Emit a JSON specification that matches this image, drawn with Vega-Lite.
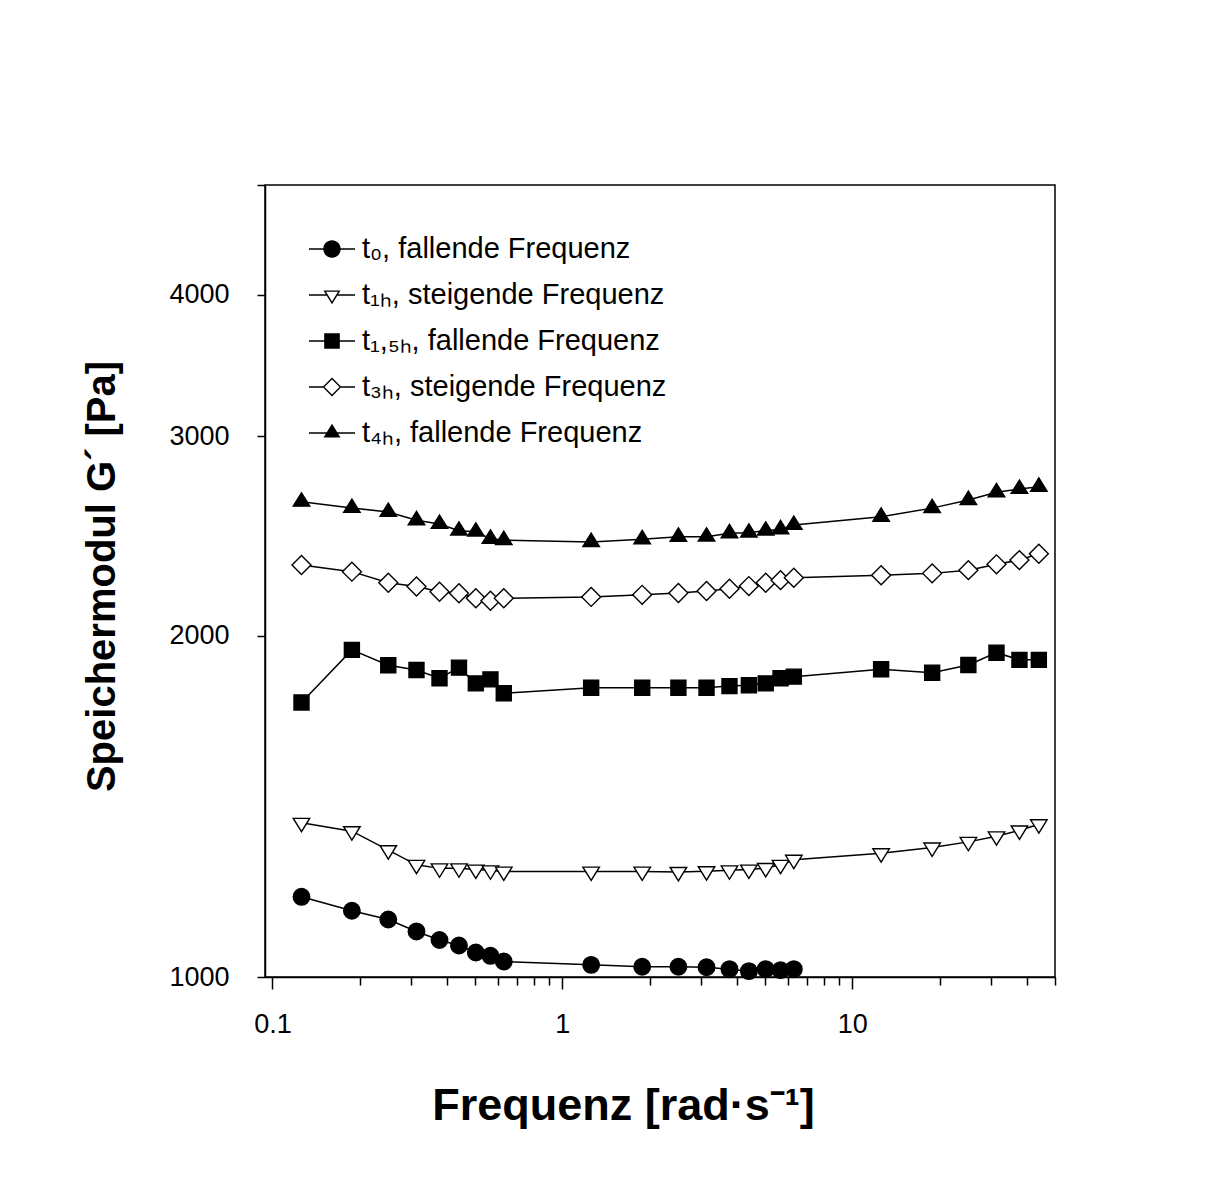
{
  "$schema": "https://vega.github.io/schema/vega-lite/v6.json",
  "width": 790,
  "height": 792,
  "autosize": "none",
  "padding": {"left": 265, "top": 185, "right": 158, "bottom": 216},
  "background": "white",
  "config": {
    "font": "Liberation Sans",
    "view": {"stroke": "black", "strokeWidth": 1.5},
    "axis": {
      "grid": false,
      "domainColor": "black",
      "domainWidth": 1.5,
      "tickColor": "black",
      "tickWidth": 1.5,
      "labelColor": "black",
      "labelFont": "Liberation Sans",
      "labelFontSize": 27,
      "titleColor": "black",
      "titleFont": "Liberation Sans",
      "titleFontWeight": "bold"
    }
  },
  "data": {
    "values": [
      {"f": 0.126, "g": 1177, "s": "t₀, fallende Frequenz"},
      {"f": 0.188, "g": 1144, "s": "t₀, fallende Frequenz"},
      {"f": 0.251, "g": 1124, "s": "t₀, fallende Frequenz"},
      {"f": 0.314, "g": 1097, "s": "t₀, fallende Frequenz"},
      {"f": 0.377, "g": 1078, "s": "t₀, fallende Frequenz"},
      {"f": 0.440, "g": 1066, "s": "t₀, fallende Frequenz"},
      {"f": 0.503, "g": 1051, "s": "t₀, fallende Frequenz"},
      {"f": 0.565, "g": 1044, "s": "t₀, fallende Frequenz"},
      {"f": 0.628, "g": 1032, "s": "t₀, fallende Frequenz"},
      {"f": 1.257, "g": 1025, "s": "t₀, fallende Frequenz"},
      {"f": 1.885, "g": 1021, "s": "t₀, fallende Frequenz"},
      {"f": 2.513, "g": 1021, "s": "t₀, fallende Frequenz"},
      {"f": 3.142, "g": 1020, "s": "t₀, fallende Frequenz"},
      {"f": 3.770, "g": 1016, "s": "t₀, fallende Frequenz"},
      {"f": 4.398, "g": 1012, "s": "t₀, fallende Frequenz"},
      {"f": 5.027, "g": 1016, "s": "t₀, fallende Frequenz"},
      {"f": 5.655, "g": 1014, "s": "t₀, fallende Frequenz"},
      {"f": 6.283, "g": 1016, "s": "t₀, fallende Frequenz"},

      {"f": 0.126, "g": 1368, "s": "t₁ₕ, steigende Frequenz"},
      {"f": 0.188, "g": 1345, "s": "t₁ₕ, steigende Frequenz"},
      {"f": 0.251, "g": 1294, "s": "t₁ₕ, steigende Frequenz"},
      {"f": 0.314, "g": 1256, "s": "t₁ₕ, steigende Frequenz"},
      {"f": 0.377, "g": 1247, "s": "t₁ₕ, steigende Frequenz"},
      {"f": 0.440, "g": 1247, "s": "t₁ₕ, steigende Frequenz"},
      {"f": 0.503, "g": 1244, "s": "t₁ₕ, steigende Frequenz"},
      {"f": 0.565, "g": 1242, "s": "t₁ₕ, steigende Frequenz"},
      {"f": 0.628, "g": 1239, "s": "t₁ₕ, steigende Frequenz"},
      {"f": 1.257, "g": 1239, "s": "t₁ₕ, steigende Frequenz"},
      {"f": 1.885, "g": 1239, "s": "t₁ₕ, steigende Frequenz"},
      {"f": 2.513, "g": 1238, "s": "t₁ₕ, steigende Frequenz"},
      {"f": 3.142, "g": 1240, "s": "t₁ₕ, steigende Frequenz"},
      {"f": 3.770, "g": 1242, "s": "t₁ₕ, steigende Frequenz"},
      {"f": 4.398, "g": 1244, "s": "t₁ₕ, steigende Frequenz"},
      {"f": 5.027, "g": 1248, "s": "t₁ₕ, steigende Frequenz"},
      {"f": 5.655, "g": 1256, "s": "t₁ₕ, steigende Frequenz"},
      {"f": 6.283, "g": 1269, "s": "t₁ₕ, steigende Frequenz"},
      {"f": 12.57, "g": 1286, "s": "t₁ₕ, steigende Frequenz"},
      {"f": 18.85, "g": 1301, "s": "t₁ₕ, steigende Frequenz"},
      {"f": 25.13, "g": 1316, "s": "t₁ₕ, steigende Frequenz"},
      {"f": 31.42, "g": 1331, "s": "t₁ₕ, steigende Frequenz"},
      {"f": 37.70, "g": 1347, "s": "t₁ₕ, steigende Frequenz"},
      {"f": 43.98, "g": 1364, "s": "t₁ₕ, steigende Frequenz"},

      {"f": 0.126, "g": 1747, "s": "t₁,₅ₕ, fallende Frequenz"},
      {"f": 0.188, "g": 1944, "s": "t₁,₅ₕ, fallende Frequenz"},
      {"f": 0.251, "g": 1884, "s": "t₁,₅ₕ, fallende Frequenz"},
      {"f": 0.314, "g": 1866, "s": "t₁,₅ₕ, fallende Frequenz"},
      {"f": 0.377, "g": 1835, "s": "t₁,₅ₕ, fallende Frequenz"},
      {"f": 0.440, "g": 1875, "s": "t₁,₅ₕ, fallende Frequenz"},
      {"f": 0.503, "g": 1816, "s": "t₁,₅ₕ, fallende Frequenz"},
      {"f": 0.565, "g": 1831, "s": "t₁,₅ₕ, fallende Frequenz"},
      {"f": 0.628, "g": 1780, "s": "t₁,₅ₕ, fallende Frequenz"},
      {"f": 1.257, "g": 1800, "s": "t₁,₅ₕ, fallende Frequenz"},
      {"f": 1.885, "g": 1800, "s": "t₁,₅ₕ, fallende Frequenz"},
      {"f": 2.513, "g": 1800, "s": "t₁,₅ₕ, fallende Frequenz"},
      {"f": 3.142, "g": 1800, "s": "t₁,₅ₕ, fallende Frequenz"},
      {"f": 3.770, "g": 1806, "s": "t₁,₅ₕ, fallende Frequenz"},
      {"f": 4.398, "g": 1809, "s": "t₁,₅ₕ, fallende Frequenz"},
      {"f": 5.027, "g": 1816, "s": "t₁,₅ₕ, fallende Frequenz"},
      {"f": 5.655, "g": 1835, "s": "t₁,₅ₕ, fallende Frequenz"},
      {"f": 6.283, "g": 1841, "s": "t₁,₅ₕ, fallende Frequenz"},
      {"f": 12.57, "g": 1869, "s": "t₁,₅ₕ, fallende Frequenz"},
      {"f": 18.85, "g": 1856, "s": "t₁,₅ₕ, fallende Frequenz"},
      {"f": 25.13, "g": 1885, "s": "t₁,₅ₕ, fallende Frequenz"},
      {"f": 31.42, "g": 1933, "s": "t₁,₅ₕ, fallende Frequenz"},
      {"f": 37.70, "g": 1905, "s": "t₁,₅ₕ, fallende Frequenz"},
      {"f": 43.98, "g": 1905, "s": "t₁,₅ₕ, fallende Frequenz"},

      {"f": 0.126, "g": 2310, "s": "t₃ₕ, steigende Frequenz"},
      {"f": 0.188, "g": 2279, "s": "t₃ₕ, steigende Frequenz"},
      {"f": 0.251, "g": 2228, "s": "t₃ₕ, steigende Frequenz"},
      {"f": 0.314, "g": 2211, "s": "t₃ₕ, steigende Frequenz"},
      {"f": 0.377, "g": 2188, "s": "t₃ₕ, steigende Frequenz"},
      {"f": 0.440, "g": 2181, "s": "t₃ₕ, steigende Frequenz"},
      {"f": 0.503, "g": 2159, "s": "t₃ₕ, steigende Frequenz"},
      {"f": 0.565, "g": 2148, "s": "t₃ₕ, steigende Frequenz"},
      {"f": 0.628, "g": 2159, "s": "t₃ₕ, steigende Frequenz"},
      {"f": 1.257, "g": 2165, "s": "t₃ₕ, steigende Frequenz"},
      {"f": 1.885, "g": 2174, "s": "t₃ₕ, steigende Frequenz"},
      {"f": 2.513, "g": 2182, "s": "t₃ₕ, steigende Frequenz"},
      {"f": 3.142, "g": 2191, "s": "t₃ₕ, steigende Frequenz"},
      {"f": 3.770, "g": 2201, "s": "t₃ₕ, steigende Frequenz"},
      {"f": 4.398, "g": 2213, "s": "t₃ₕ, steigende Frequenz"},
      {"f": 5.027, "g": 2228, "s": "t₃ₕ, steigende Frequenz"},
      {"f": 5.655, "g": 2240, "s": "t₃ₕ, steigende Frequenz"},
      {"f": 6.283, "g": 2251, "s": "t₃ₕ, steigende Frequenz"},
      {"f": 12.57, "g": 2262, "s": "t₃ₕ, steigende Frequenz"},
      {"f": 18.85, "g": 2271, "s": "t₃ₕ, steigende Frequenz"},
      {"f": 25.13, "g": 2286, "s": "t₃ₕ, steigende Frequenz"},
      {"f": 31.42, "g": 2313, "s": "t₃ₕ, steigende Frequenz"},
      {"f": 37.70, "g": 2333, "s": "t₃ₕ, steigende Frequenz"},
      {"f": 43.98, "g": 2363, "s": "t₃ₕ, steigende Frequenz"},

      {"f": 0.126, "g": 2627, "s": "t₄ₕ, fallende Frequenz"},
      {"f": 0.188, "g": 2594, "s": "t₄ₕ, fallende Frequenz"},
      {"f": 0.251, "g": 2573, "s": "t₄ₕ, fallende Frequenz"},
      {"f": 0.314, "g": 2530, "s": "t₄ₕ, fallende Frequenz"},
      {"f": 0.377, "g": 2511, "s": "t₄ₕ, fallende Frequenz"},
      {"f": 0.440, "g": 2477, "s": "t₄ₕ, fallende Frequenz"},
      {"f": 0.503, "g": 2472, "s": "t₄ₕ, fallende Frequenz"},
      {"f": 0.565, "g": 2436, "s": "t₄ₕ, fallende Frequenz"},
      {"f": 0.628, "g": 2430, "s": "t₄ₕ, fallende Frequenz"},
      {"f": 1.257, "g": 2420, "s": "t₄ₕ, fallende Frequenz"},
      {"f": 1.885, "g": 2434, "s": "t₄ₕ, fallende Frequenz"},
      {"f": 2.513, "g": 2446, "s": "t₄ₕ, fallende Frequenz"},
      {"f": 3.142, "g": 2447, "s": "t₄ₕ, fallende Frequenz"},
      {"f": 3.770, "g": 2464, "s": "t₄ₕ, fallende Frequenz"},
      {"f": 4.398, "g": 2467, "s": "t₄ₕ, fallende Frequenz"},
      {"f": 5.027, "g": 2477, "s": "t₄ₕ, fallende Frequenz"},
      {"f": 5.655, "g": 2484, "s": "t₄ₕ, fallende Frequenz"},
      {"f": 6.283, "g": 2506, "s": "t₄ₕ, fallende Frequenz"},
      {"f": 12.57, "g": 2548, "s": "t₄ₕ, fallende Frequenz"},
      {"f": 18.85, "g": 2593, "s": "t₄ₕ, fallende Frequenz"},
      {"f": 25.13, "g": 2636, "s": "t₄ₕ, fallende Frequenz"},
      {"f": 31.42, "g": 2678, "s": "t₄ₕ, fallende Frequenz"},
      {"f": 37.70, "g": 2696, "s": "t₄ₕ, fallende Frequenz"},
      {"f": 43.98, "g": 2708, "s": "t₄ₕ, fallende Frequenz"}
    ]
  },
  "layer": [
    {
      "mark": {"type": "line", "color": "black", "strokeWidth": 1.5},
      "encoding": {
        "x": {
          "field": "f", "type": "quantitative",
          "scale": {"type": "log", "domain": [0.0943, 50], "nice": false},
          "axis": {
            "orient": "bottom",
            "values": [0.1, 1, 10],
            "labelExpr": "datum.value < 0.5 ? '0.1' : datum.value < 5 ? '1' : '10'",
            "tickSize": 12,
            "labelPadding": 22,
            "title": "Frequenz [rad·s⁻¹]",
            "titleFontSize": 45,
            "titleX": 358,
            "titleY": 142,
            "titleBaseline": "alphabetic"
          }
        },
        "y": {
          "field": "g", "type": "quantitative",
          "scale": {"type": "log", "domain": [1000, 5000], "nice": false},
          "axis": {
            "values": [1000, 2000, 3000, 4000, 5000],
            "labelExpr": "datum.value > 4500 ? '' : format(datum.value, 'd')",
            "tickSize": 8,
            "labelPadding": 28,
            "title": "Speichermodul G´ [Pa]",
            "titleFontSize": 40,
            "titleX": -143,
            "titleY": 391,
            "titleBaseline": "bottom"
          }
        },
        "detail": {"field": "s"}
      }
    },
    {
      "mark": {"type": "point", "filled": true, "opacity": 1, "stroke": "black", "strokeWidth": 1.4, "size": 272},
      "encoding": {
        "x": {
          "field": "f", "type": "quantitative",
          "axis": {
            "orient": "bottom",
            "values": [0.2, 0.3, 0.4, 0.5, 0.6, 0.7, 0.8, 0.9, 2, 3, 4, 5, 6, 7, 8, 9, 20, 30, 40, 50],
            "labels": false,
            "domain": false,
            "tickSize": 8,
            "title": null
          }
        },
        "y": {"field": "g", "type": "quantitative"},
        "fill": {
          "field": "s", "type": "nominal",
          "scale": {
            "domain": ["t₀, fallende Frequenz", "t₁ₕ, steigende Frequenz", "t₁,₅ₕ, fallende Frequenz", "t₃ₕ, steigende Frequenz", "t₄ₕ, fallende Frequenz"],
            "range": ["black", "white", "black", "white", "black"]
          },
          "legend": null
        },
        "shape": {
          "field": "s", "type": "nominal",
          "scale": {
            "domain": ["t₀, fallende Frequenz", "t₁ₕ, steigende Frequenz", "t₁,₅ₕ, fallende Frequenz", "t₃ₕ, steigende Frequenz", "t₄ₕ, fallende Frequenz"],
            "range": ["circle", "M-1,-0.54H1L0,1.08Z", "M-0.91,-0.91H0.91V0.91H-0.91Z", "M-1.15,0L0,-1.15L1.15,0L0,1.15Z", "M-1,0.54H1L0,-1.08Z"]
          },
          "legend": null
        }
      }
    },
    {
      "mark": {"type": "point", "filled": true, "fill": "black", "size": 0, "strokeWidth": 0},
      "encoding": {
        "x": {"field": "f", "type": "quantitative", "axis": null},
        "y": {"field": "g", "type": "quantitative"},
        "shape": {
          "field": "s", "type": "nominal",
          "scale": {
            "domain": ["t₀, fallende Frequenz", "t₁ₕ, steigende Frequenz", "t₁,₅ₕ, fallende Frequenz", "t₃ₕ, steigende Frequenz", "t₄ₕ, fallende Frequenz"],
            "range": [
              "M-1,-0.033H-0.36V0.033H-1ZM0.36,-0.033H1V0.033H0.36ZM-0.38,0A0.38,0.38,0,1,1,0.38,0A0.38,0.38,0,1,1,-0.38,0Z",
              "M-1,-0.033H-0.23V0.033H-1ZM0.23,-0.033H1V0.033H0.23ZM-0.37,-0.2H0.37L0,0.4ZM-0.26,-0.14L0,0.28L0.26,-0.14Z",
              "M-1,-0.033H-0.32V0.033H-1ZM0.32,-0.033H1V0.033H0.32ZM-0.34,-0.34H0.34V0.34H-0.34Z",
              "M-1,-0.033H-0.39V0.033H-1ZM0.39,-0.033H1V0.033H0.39ZM0,-0.41L0.41,0L0,0.41L-0.41,0ZM0,-0.325L-0.325,0L0,0.325L0.325,0Z",
              "M-1,-0.033H1V0.033H-1ZM-0.37,0.2L0,-0.4L0.37,0.2Z"
            ]
          },
          "legend": {
            "title": null,
            "orient": "none",
            "legendX": 44,
            "legendY": 41,
            "padding": 0,
            "rowPadding": 8,
            "symbolSize": 2116,
            "symbolFillColor": "black",
            "symbolStrokeWidth": 0,
            "symbolOpacity": 1,
            "labelFont": "Liberation Sans",
            "labelFontSize": 29,
            "labelColor": "black",
            "labelOffset": 7,
            "labelLimit": 0
          }
        }
      }
    }
  ],
  "resolve": {"axis": {"x": "independent"}, "scale": {"shape": "independent"}}
}
